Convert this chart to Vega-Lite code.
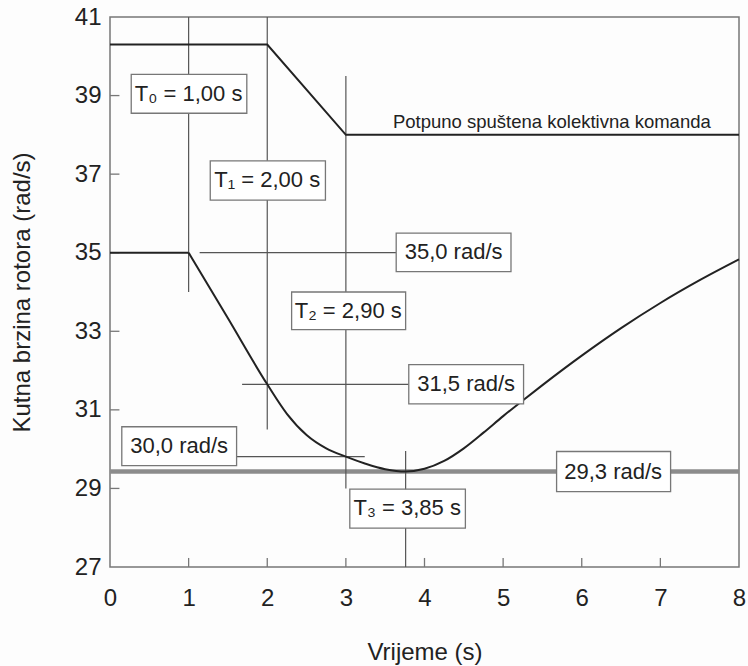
{
  "$schema": "https://vega.github.io/schema/vega-lite/v6.json",
  "autosize": {"type": "none"},
  "padding": {"left": 110, "top": 17, "right": 9, "bottom": 99},
  "width": 629,
  "height": 550,
  "background": "#fdfdfd",
  "config": {
    "view": {"stroke": "#777777", "strokeWidth": 1.5},
    "font": "Liberation Sans",
    "axis": {"grid": false, "domain": false, "ticks": false, "labelColor": "#222222", "titleColor": "#222222", "labelFont": "Liberation Sans", "titleFont": "Liberation Sans", "titleFontWeight": "normal", "labelFontSize": 24, "titleFontSize": 24}
  },
  "datasets": {
    "upper": [
      {"t": 0, "v": 40.3}, {"t": 2, "v": 40.3}, {"t": 3, "v": 38.0}, {"t": 8, "v": 38.0}
    ],
    "flat": [
      {"t": 0, "v": 35.0}, {"t": 1, "v": 35.0}
    ],
    "curve": [
      {"t": 1.0, "v": 35.0}, {"t": 1.5, "v": 33.33}, {"t": 2.0, "v": 31.65}, {"t": 2.25, "v": 30.9},
      {"t": 2.5, "v": 30.36}, {"t": 2.75, "v": 30.02}, {"t": 3.0, "v": 29.81}, {"t": 3.25, "v": 29.63},
      {"t": 3.5, "v": 29.49}, {"t": 3.76, "v": 29.43}, {"t": 4.0, "v": 29.5}, {"t": 4.25, "v": 29.7},
      {"t": 4.5, "v": 30.02}, {"t": 4.75, "v": 30.42}, {"t": 5.0, "v": 30.84}, {"t": 5.25, "v": 31.24},
      {"t": 5.5, "v": 31.63}, {"t": 6.0, "v": 32.38}, {"t": 6.5, "v": 33.08}, {"t": 7.0, "v": 33.72},
      {"t": 7.5, "v": 34.3}, {"t": 8.0, "v": 34.83}
    ],
    "guides": [
      {"x": 1, "x2": 1, "y": 34.0, "y2": 41},
      {"x": 2, "x2": 2, "y": 30.5, "y2": 41},
      {"x": 3, "x2": 3, "y": 29.0, "y2": 39.5},
      {"x": 3.76, "x2": 3.76, "y": 27, "y2": 29.95},
      {"x": 1.14, "x2": 3.64, "y": 35.0, "y2": 35.0},
      {"x": 1.68, "x2": 3.8, "y": 31.65, "y2": 31.65},
      {"x": 1.6, "x2": 3.24, "y": 29.81, "y2": 29.81}
    ],
    "ticks": [
      {"x": 1, "x2": 1, "y": 27, "y2": 27.23},
      {"x": 2, "x2": 2, "y": 27, "y2": 27.23},
      {"x": 3, "x2": 3, "y": 27, "y2": 27.23},
      {"x": 4, "x2": 4, "y": 27, "y2": 27.23},
      {"x": 5, "x2": 5, "y": 27, "y2": 27.23},
      {"x": 6, "x2": 6, "y": 27, "y2": 27.23},
      {"x": 7, "x2": 7, "y": 27, "y2": 27.23},
      {"x": 0, "x2": 0.12, "y": 29, "y2": 29},
      {"x": 0, "x2": 0.12, "y": 31, "y2": 31},
      {"x": 0, "x2": 0.12, "y": 33, "y2": 33},
      {"x": 0, "x2": 0.12, "y": 35, "y2": 35},
      {"x": 0, "x2": 0.12, "y": 37, "y2": 37},
      {"x": 0, "x2": 0.12, "y": 39, "y2": 39}
    ],
    "boxes": [
      {"label": "T₀ = 1,00 s", "x": 0.27, "x2": 1.74, "y": 38.55, "y2": 39.54, "tx": 1.0, "ty": 39.04},
      {"label": "T₁ = 2,00 s", "x": 1.275, "x2": 2.74, "y": 36.34, "y2": 37.34, "tx": 2.0, "ty": 36.84},
      {"label": "35,0 rad/s", "x": 3.64, "x2": 5.1, "y": 34.52, "y2": 35.5, "tx": 4.37, "ty": 35.01},
      {"label": "T₂ = 2,90 s", "x": 2.31, "x2": 3.76, "y": 33.04, "y2": 34.0, "tx": 3.03, "ty": 33.52},
      {"label": "31,5 rad/s", "x": 3.8, "x2": 5.26, "y": 31.15, "y2": 32.15, "tx": 4.53, "ty": 31.65},
      {"label": "30,0 rad/s", "x": 0.15, "x2": 1.61, "y": 29.58, "y2": 30.57, "tx": 0.88, "ty": 30.08},
      {"label": "29,3 rad/s", "x": 5.68, "x2": 7.13, "y": 28.92, "y2": 29.94, "tx": 6.4, "ty": 29.43},
      {"label": "T₃ = 3,85 s", "x": 3.05, "x2": 4.52, "y": 27.99, "y2": 28.98, "tx": 3.78, "ty": 28.49}
    ],
    "notes": [
      {"label": "Potpuno spuštena kolektivna komanda", "tx": 5.62, "ty": 38.34}
    ],
    "minline": [
      {"x": 0, "x2": 8, "y": 29.43}
    ]
  },
  "layer": [
    {
      "data": {"name": "minline"},
      "mark": {"type": "rule", "color": "#8c8c8c", "strokeWidth": 4.5},
      "encoding": {
        "x": {"field": "x", "type": "quantitative", "scale": {"domain": [0, 8], "nice": false, "zero": false},
              "axis": {"values": [0, 1, 2, 3, 4, 5, 6, 7, 8], "format": "d", "title": "Vrijeme (s)", "labelPadding": 19, "titlePadding": 30, "labelFlush": false}},
        "x2": {"field": "x2"},
        "y": {"field": "y", "type": "quantitative", "scale": {"domain": [27, 41], "nice": false, "zero": false},
              "axis": {"values": [27, 29, 31, 33, 35, 37, 39, 41], "format": "d", "title": "Kutna brzina rotora (rad/s)", "labelPadding": 9, "titlePadding": 40, "labelFlush": false}}
      }
    },
    {
      "data": {"name": "guides"},
      "mark": {"type": "rule", "color": "#555555", "strokeWidth": 1.2},
      "encoding": {
        "x": {"field": "x", "type": "quantitative"},
        "x2": {"field": "x2"},
        "y": {"field": "y", "type": "quantitative"},
        "y2": {"field": "y2"}
      }
    },
    {
      "data": {"name": "ticks"},
      "mark": {"type": "rule", "color": "#777777", "strokeWidth": 1.3},
      "encoding": {
        "x": {"field": "x", "type": "quantitative"},
        "x2": {"field": "x2"},
        "y": {"field": "y", "type": "quantitative"},
        "y2": {"field": "y2"}
      }
    },
    {
      "data": {"name": "upper"},
      "mark": {"type": "line", "color": "#222222", "strokeWidth": 2},
      "encoding": {
        "x": {"field": "t", "type": "quantitative"},
        "y": {"field": "v", "type": "quantitative"}
      }
    },
    {
      "data": {"name": "flat"},
      "mark": {"type": "line", "color": "#222222", "strokeWidth": 2},
      "encoding": {
        "x": {"field": "t", "type": "quantitative"},
        "y": {"field": "v", "type": "quantitative"}
      }
    },
    {
      "data": {"name": "curve"},
      "mark": {"type": "line", "color": "#222222", "strokeWidth": 2, "interpolate": "monotone"},
      "encoding": {
        "x": {"field": "t", "type": "quantitative"},
        "y": {"field": "v", "type": "quantitative"}
      }
    },
    {
      "data": {"name": "boxes"},
      "mark": {"type": "rect", "fill": "#ffffff", "stroke": "#777777", "strokeWidth": 1.3},
      "encoding": {
        "x": {"field": "x", "type": "quantitative"},
        "x2": {"field": "x2"},
        "y": {"field": "y", "type": "quantitative"},
        "y2": {"field": "y2"}
      }
    },
    {
      "data": {"name": "boxes"},
      "mark": {"type": "text", "fontSize": 22, "color": "#222222", "font": "Liberation Sans", "align": "center", "baseline": "middle"},
      "encoding": {
        "x": {"field": "tx", "type": "quantitative"},
        "y": {"field": "ty", "type": "quantitative"},
        "text": {"field": "label"}
      }
    },
    {
      "data": {"name": "notes"},
      "mark": {"type": "text", "fontSize": 18.5, "color": "#222222", "font": "Liberation Sans", "align": "center", "baseline": "middle"},
      "encoding": {
        "x": {"field": "tx", "type": "quantitative"},
        "y": {"field": "ty", "type": "quantitative"},
        "text": {"field": "label"}
      }
    }
  ]
}
